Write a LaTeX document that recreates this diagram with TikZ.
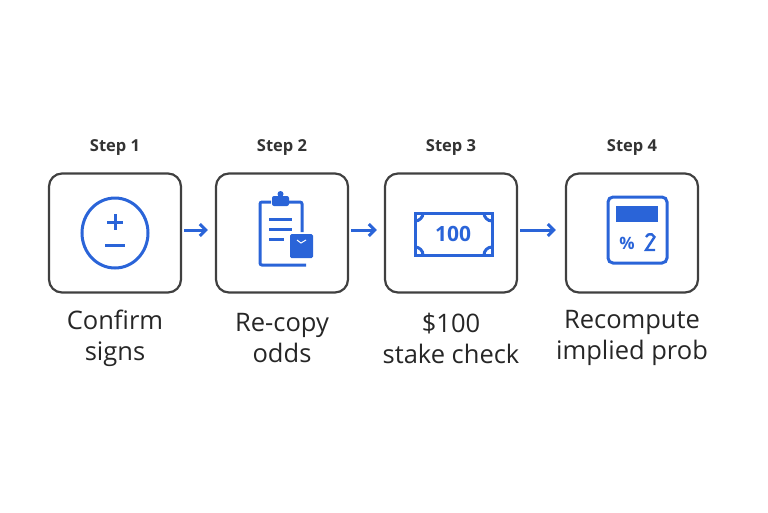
\documentclass[tikz,border=0pt]{standalone}
\usepackage{fontspec}
\setmainfont{Open Sans}
\usetikzlibrary{arrows.meta}
\definecolor{iblue}{HTML}{2A64D8}
\begin{document}
\begin{tikzpicture}[x=1pt,y=-1pt,
  box/.style={draw=black!75,line width=2.2pt,rounded corners=13pt,minimum width=132pt,minimum height=119pt},
  ic/.style={draw=iblue,line width=3pt},
  arr/.style={draw=iblue,line width=3pt,-{Straight Barb[length=6pt,width=12pt,line width=3pt]}},
  steplab/.style={font=\fontsize{16.5}{18}\selectfont\bfseries,text=black!80},
  lab/.style={font=\fontsize{25.5}{31}\selectfont,text=black!85,align=center}]
\useasboundingbox (0,0) rectangle (768,512);
\node[box] (b1) at (115,233) {};
\node[box] (b2) at (282,233) {};
\node[box] (b3) at (451,233) {};
\node[box] (b4) at (632,233) {};
\foreach \i/\x in {1/115,2/282,3/451,4/632}{
  \node[steplab] (s\i) at (\x,148) {Step \i};}
\node[lab] (l1) at (115,338) {Confirm\\signs};
\node[lab] (l2) at (282,338) {Re-copy\\odds};
\node[lab] (l3) at (451,338) {\$100\\stake check};
\node[lab] (l4) at (632,338) {Recompute\\implied prob};
\draw[arr] ([xshift=2pt,yshift=3pt]b1.east) -- ([xshift=-7pt,yshift=3pt]b2.west);
\draw[arr] ([xshift=2pt,yshift=3pt]b2.east) -- ([xshift=-7pt,yshift=3pt]b3.west);
\draw[arr] ([xshift=2pt,yshift=3pt]b3.east) -- ([xshift=-9pt,yshift=3pt]b4.west);
% icon 1
\draw[ic] (115,233) ellipse (33 and 35);
\draw[ic] (107,222) -- (123,222) (115,214) -- (115,230) (105,245) -- (125,245);
% icon 2
\draw[ic,rounded corners=2pt] (271,202) -- (260,202) -- (260,265) -- (306,265);
\draw[ic,rounded corners=2pt] (289,202) -- (302,202) -- (302,232);
\fill[iblue,rounded corners=2pt] (272,196) rectangle (289,206);
\fill[iblue] (280.5,194) circle (3);
\draw[ic] (269,219) -- (292,219) (269,229) -- (292,229) (269,239) -- (284,239);
\fill[iblue,rounded corners=1.5pt] (290,234) rectangle (313,258);
\draw[white,line width=1pt] (297,240) -- (301,243) -- (306,240);
% icon 3
\draw[ic] (415,213) rectangle (492,255);
\begin{scope}
\clip (415,213) rectangle (492,255);
\draw[ic] (415,213) circle (8) (492,213) circle (8) (415,255) circle (8) (492,255) circle (8);
\end{scope}
\node[font=\fontsize{21}{21}\selectfont\bfseries,text=iblue] (t3) at (453,234) {100};
% icon 4
\draw[ic,rounded corners=5pt] (608,197) rectangle (667,263);
\fill[iblue] (616,206) rectangle (658,222);
\node[font=\fontsize{17}{17}\selectfont\bfseries,text=iblue] (p4) at (627,243) {\%};
\draw[ic,line width=2.4pt] (646,237) arc (200:340:4.5) -- (646,250) -- (655,250);
\end{tikzpicture}
\end{document}
